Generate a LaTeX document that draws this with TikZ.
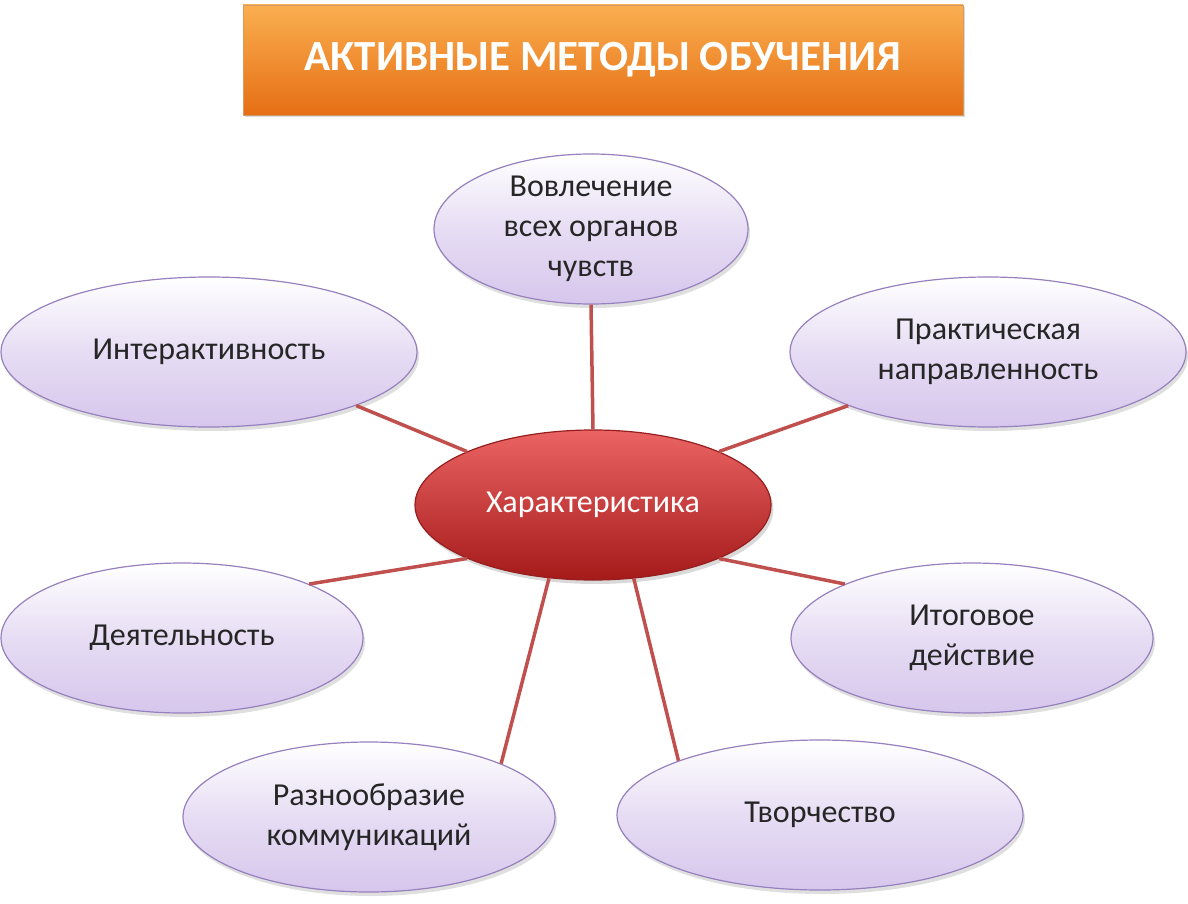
\documentclass[tikz,border=0pt]{standalone}
\usepackage{fontspec}
\setmainfont{Carlito}
\usetikzlibrary{shapes.geometric,shadows}
\definecolor{lav}{RGB}{214,198,236}
\definecolor{lavb}{RGB}{150,128,190}
\definecolor{lnk}{RGB}{192,80,77}
\tikzset{
 oval/.style={ellipse,draw=lavb,line width=1.2pt,top color=white,bottom color=lav,middle color=lav!60,inner sep=0pt,align=center,font=\fontsize{32}{40}\selectfont,text=black!85,drop shadow={opacity=0.25,shadow xshift=2pt,shadow yshift=-4pt}},
 link/.style={draw=lnk,line width=3.5pt}
}
\begin{document}
\begin{tikzpicture}[x=1pt,y=-1pt]
\useasboundingbox (0,0) rectangle (1188,904);
\node[draw=orange!70!black!60,top color={rgb,255:red,250;green,175;blue,80},bottom color={rgb,255:red,230;green,110;blue,20},minimum width=720,minimum height=110,font=\fontsize{43}{48}\selectfont\bfseries,text=white,drop shadow={opacity=0.3}] (t) at (603,60) {АКТИВНЫЕ МЕТОДЫ ОБУЧЕНИЯ};
\node[oval,minimum width=314,minimum height=150] (n1) at (591,229) {Вовлечение\\всех органов\\чувств};
\node[oval,minimum width=416,minimum height=150] (n2) at (209,352) {Интерактивность};
\node[oval,minimum width=396,minimum height=150] (n3) at (988,352) {Практическая\\направленность};
\node[oval,minimum width=362,minimum height=150] (n4) at (182,638) {Деятельность};
\node[oval,minimum width=362,minimum height=150] (n5) at (972,638) {Итоговое\\действие};
\node[oval,minimum width=372,minimum height=150] (n6) at (369,817) {Разнообразие\\коммуникаций};
\node[oval,minimum width=406,minimum height=150] (n7) at (820,815) {Творчество};
\node[ellipse,draw={rgb,255:red,150;green,30;blue,30},line width=1.2pt,top color={rgb,255:red,235;green,100;blue,100},bottom color={rgb,255:red,165;green,25;blue,25},minimum width=356,minimum height=150,font=\fontsize{32}{40}\selectfont,text=white,drop shadow={opacity=0.3,shadow yshift=-4pt}] (c) at (593,505) {Характеристика};
\draw[link] (n1.south) -- (c.north);
\draw[link] (n2.-20) -- (c.157);
\draw[link] (n3.-159) -- (c.23);
\draw[link] (n4.23) -- (c.-157);
\draw[link] (n5.157) -- (c.-23);
\draw[link] (n6.22) -- (c.-121);
\draw[link] (n7.159) -- (c.-61);
\end{tikzpicture}
\end{document}
